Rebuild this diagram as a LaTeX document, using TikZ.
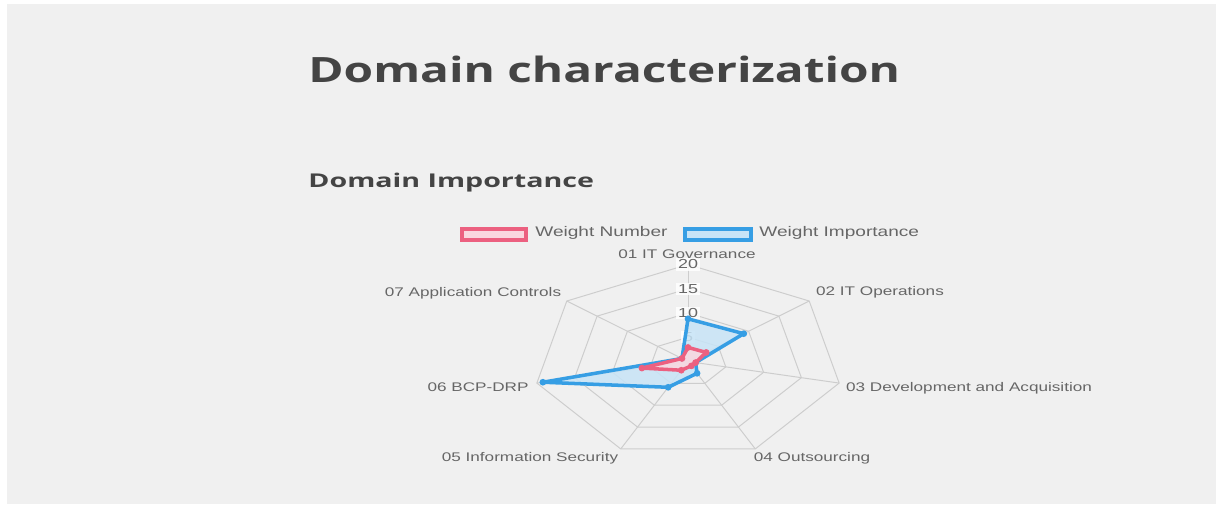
\documentclass[tikz,border=0pt]{standalone}
\usepackage{fontspec}
\setmainfont{Liberation Sans}
\newfontfamily\titlefont{Open Sans}
\usepackage{tikz}
\usetikzlibrary{arrows.meta}
\usepackage{xcolor}
\definecolor{ColPage}{RGB}{240,240,240}
\definecolor{ColTitle}{RGB}{68,68,68}
\definecolor{ColText}{RGB}{102,102,102}
\definecolor{ColGrid}{RGB}{205,205,205}
\definecolor{ColNum}{RGB}{236,96,128}
\definecolor{ColImp}{RGB}{54,158,228}
\tikzstyle{TitleText}=[inner sep=0pt,anchor=base west,xscale=1.37,text=ColTitle,font=\titlefont\bfseries]
\tikzstyle{AxisLabel}=[inner sep=0pt,xscale=1.37,text=ColText,font=\fontsize{8.9}{10}\selectfont]
\tikzstyle{TickLabel}=[inner sep=1pt,xscale=1.37,fill=white,fill opacity=.8,text opacity=1,
text=ColText,font=\fontsize{9.3}{10}\selectfont]
\tikzstyle{LegendText}=[inner sep=0pt,anchor=west,xscale=1.37,text=ColText,font=\fontsize{9.9}{11}\selectfont]
\tikzstyle{GridLine}=[ColGrid,line width=.7pt]
\tikzstyle{NumLine}=[ColNum,line width=2.5pt,line join=round,fill=ColNum!25,fill opacity=.85]
\tikzstyle{ImpLine}=[ColImp,line width=2.5pt,line join=round,fill=ColImp!28,fill opacity=.85]

\begin{document}
\begin{tikzpicture}[x=0.025cm,y=-0.025cm]
        \useasboundingbox(0,0)rectangle(1221,510);
        \fill[white](0,0)rectangle(1221,510);
        \fill[ColPage](7,4)rectangle(1216,504);
        % headings
        \node[TitleText,font=\titlefont\bfseries\fontsize{24.8}{28}\selectfont](title)at(308,83){Domain characterization};
        \node[TitleText,xscale=1.1,font=\titlefont\bfseries\fontsize{13.5}{15}\selectfont](sub)at(308,188){Domain Importance};
        % legend
        \draw[ColNum,line width=2.2pt,fill=ColNum!25](462,229)rectangle(526,240);
        \node[LegendText](lnum)at(535,233){Weight Number};
        \draw[ColImp,line width=2.2pt,fill=ColImp!28](685,229)rectangle(751,240);
        \node[LegendText](limp)at(759,233){Weight Importance};
        % radar
        \begin{scope}[shift={(688,361.5)},x=1.9375mm,y=1.2125mm]
        \foreach \r in {5,10,15,20}
            \draw[GridLine](90:\r)--(38.571:\r)--(-12.857:\r)--(-64.286:\r)--(-115.714:\r)
            --(-167.143:\r)--(141.429:\r)--cycle;
        \foreach \a in {90,38.571,-12.857,-64.286,-115.714,-167.143,141.429}
            \draw[GridLine](0,0)--(\a:20);
        \node[TickLabel](t20)at(90:20){20};
        \node[TickLabel](t15)at(90:15){15};
        \node[TickLabel](t10)at(90:10){10};
        \node[TickLabel](t5)at(90:5){5};
        \coordinate(i1)at(90:8.8);
        \coordinate(i2)at(38.571:9.2);
        \coordinate(i3)at(-12.857:1);
        \coordinate(i4)at(-64.286:2.7);
        \coordinate(i5)at(-115.714:5.9);
        \coordinate(i6)at(-167.143:19.2);
        \coordinate(i7)at(141.429:1);
        \coordinate(n1)at(90:2.9);
        \coordinate(n2)at(38.571:3);
        \coordinate(n3)at(-12.857:1);
        \coordinate(n4)at(-64.286:1);
        \coordinate(n5)at(-115.714:2);
        \coordinate(n6)at(-167.143:6.1);
        \coordinate(n7)at(141.429:1);
        \draw[ImpLine](i1)--(i2)--(i3)--(i4)--(i5)--(i6)--(i7)--cycle;
        \foreach \p in {i1,i2,i3,i4,i5,i6,i7}
            \fill[ColImp](\p)circle(2.4pt);
        \draw[NumLine](n1)--(n2)--(n3)--(n4)--(n5)--(n6)--(n7)--cycle;
        \foreach \p in {n1,n2,n3,n4,n5,n6,n7}
            \fill[ColNum](\p)circle(2.4pt);
        \end{scope}
        % axis labels
        \node[AxisLabel](a1)at(687,254){01 IT Governance};
        \node[AxisLabel](a2)at(880,292){02 IT Operations};
        \node[AxisLabel](a3)at(969,388){03 Development and Acquisition};
        \node[AxisLabel](a4)at(812,458){04 Outsourcing};
        \node[AxisLabel](a5)at(530,458){05 Information Security};
        \node[AxisLabel](a6)at(478,387){06 BCP-DRP};
        \node[AxisLabel](a7)at(473,293){07 Application Controls};
    \end{tikzpicture}
\end{document}
